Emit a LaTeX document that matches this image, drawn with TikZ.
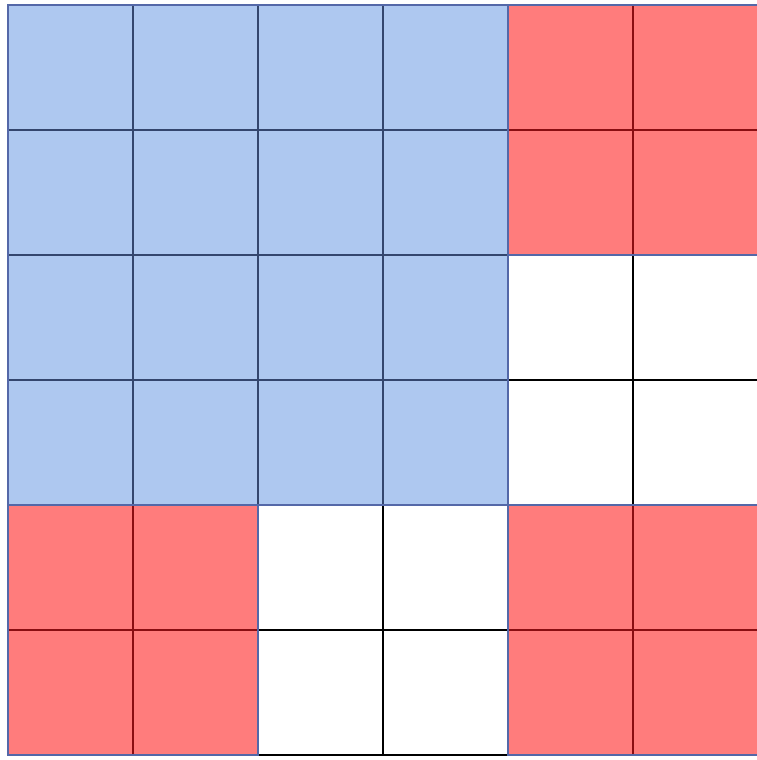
\documentclass[tikz,border=0pt]{standalone}
\begin{document}
\begin{tikzpicture}[x=1pt,y=-1pt,
  bluefill/.style={fill=cellblue},
  redfill/.style={fill=cellred},
  blueline/.style={draw=lineblue,line width=1.4pt},
  redline/.style={draw=linered,line width=1.3pt},
  blackline/.style={draw=black,line width=1.2pt},
  blockedge/.style={draw=edgeblue,line width=1.8pt}]
\definecolor{cellblue}{HTML}{AEC8F0}
\definecolor{cellred}{HTML}{FF7C7C}
\definecolor{lineblue}{HTML}{34466E}
\definecolor{linered}{HTML}{8A0E12}
\definecolor{edgeblue}{HTML}{5468A8}
\useasboundingbox (0,0) rectangle (757,760);
\fill[white] (0,0) rectangle (757,760);
\begin{scope}
\clip (0,0) rectangle (757,760);
% fills
\path[bluefill] (8,5) rectangle (508,505);
\path[redfill] (508,5) rectangle (758,255);
\path[redfill] (8,505) rectangle (258,755);
\path[redfill] (508,505) rectangle (758,755);
% white region lines
\draw[blackline] (508,255) rectangle (758,505);
\draw[blackline] (633,255) -- (633,505);
\draw[blackline] (508,380) -- (758,380);
\draw[blackline] (258,505) rectangle (508,755);
\draw[blackline] (383,505) -- (383,755);
\draw[blackline] (258,630) -- (508,630);
% blue internal lines
\foreach \i in {133,258,383} {
  \draw[blueline] (\i,5) -- (\i,505);
  \draw[blueline] (8,\i-3) -- (508,\i-3);
}
% red internal lines
\draw[redline] (633,5) -- (633,255);
\draw[redline] (508,130) -- (758,130);
\draw[redline] (133,505) -- (133,755);
\draw[redline] (8,630) -- (258,630);
\draw[redline] (633,505) -- (633,755);
\draw[redline] (508,630) -- (758,630);
% block edges
\draw[blockedge] (8,5) rectangle (508,505);
\draw[blockedge] (508,5) rectangle (758,255);
\draw[blockedge] (8,505) rectangle (258,755);
\draw[blockedge] (508,505) rectangle (758,755);
\end{scope}
\end{tikzpicture}
\end{document}
